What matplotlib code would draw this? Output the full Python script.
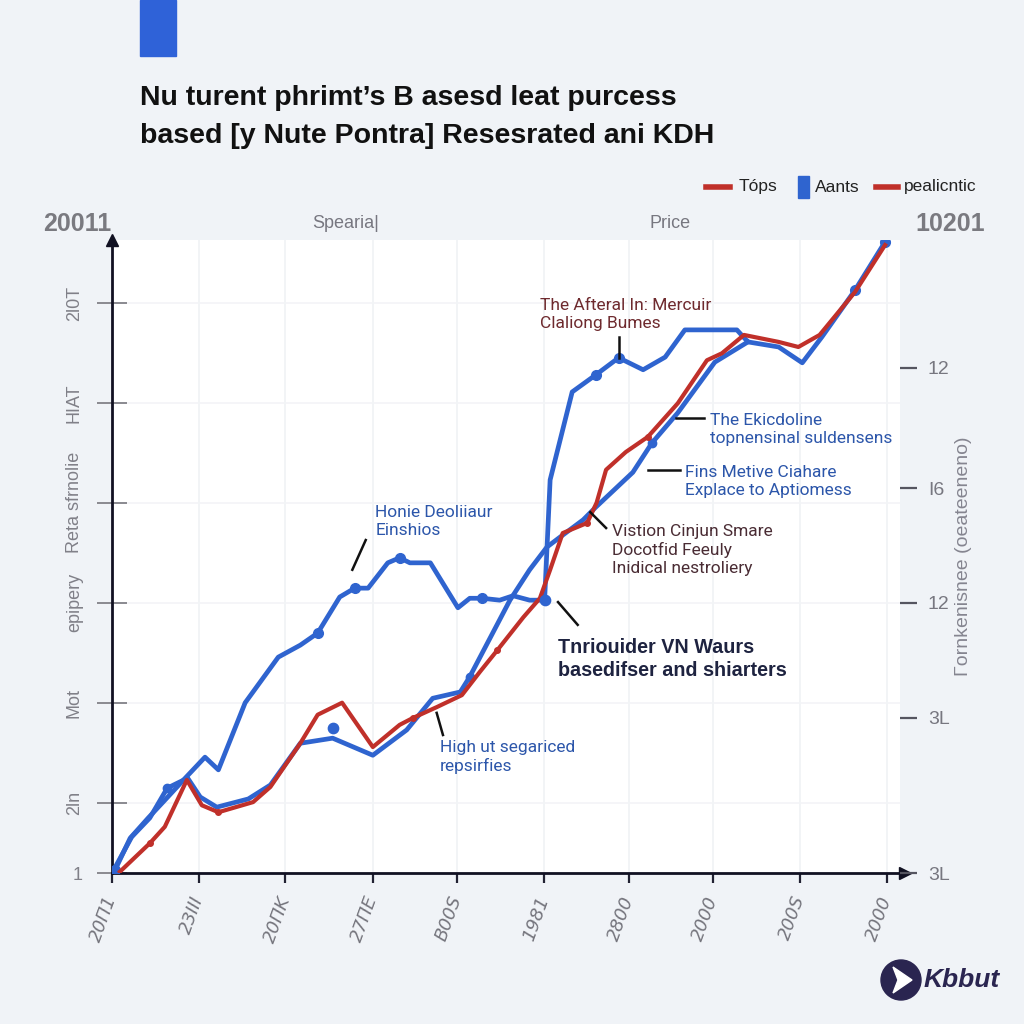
import matplotlib
matplotlib.use("Agg")
import matplotlib.pyplot as plt
from matplotlib.lines import Line2D
from matplotlib.patches import Rectangle, Circle, Polygon

plt.rcParams['font.family'] = ['Liberation Sans', 'DejaVu Sans']

# ---------------- data ----------------
upper_x = [0.4, 2.3, 4.6, 6.7, 9.3, 11.8, 13.5, 16.9, 21.1, 23.9, 26.1, 28.9, 30.8, 32.5,
           35.0, 36.5, 37.8, 40.4, 43.9, 45.4, 47.0, 49.2, 50.9, 53.0, 54.9, 55.6, 58.4,
           61.4, 64.3, 67.4, 70.2, 72.7, 79.3, 80.7, 84.6, 87.6, 90.1, 94.3, 98.1]
upper_y = [0.5, 5.5, 8.7, 11.5, 15.0, 18.3, 16.3, 26.9, 34.1, 36.0, 37.9, 43.6, 45.0, 45.0,
           49.0, 49.8, 49.0, 49.0, 41.9, 43.4, 43.4, 43.1, 43.8, 43.1, 43.1, 62.1, 76.0,
           78.7, 81.4, 79.5, 81.5, 85.8, 85.8, 83.9, 83.1, 80.6, 84.7, 92.1, 99.7]
upper_marks = [0, 10, 12, 15, 20, 27, 28, 37, 38]

lower_x = [0.1, 2.5, 4.8, 7.0, 9.6, 11.2, 13.3, 17.3, 20.1, 23.9, 28.0, 33.1, 37.4, 40.7,
           44.2, 45.4, 50.5, 53.0, 55.2, 56.9, 59.8, 61.4, 66.1, 68.5, 71.8, 76.5, 80.7]
lower_y = [0.2, 5.7, 8.7, 13.4, 15.0, 12.0, 10.4, 11.7, 13.9, 20.5, 21.3, 18.6, 22.6, 27.6,
           28.6, 31.0, 43.1, 47.9, 51.5, 53.1, 55.8, 57.8, 63.3, 67.9, 72.7, 80.7, 83.9]
lower_marks = [0, 3, 15, 23]

red_x = [1.0, 4.8, 6.7, 9.5, 11.4, 13.5, 17.9, 20.1, 23.9, 26.1, 29.2, 33.1, 36.5, 38.2,
         41.2, 44.4, 46.7, 48.9, 52.2, 54.3, 55.6, 57.2, 60.3, 61.5, 62.7, 65.2, 68.0,
         71.8, 75.5, 77.4, 80.2, 84.6, 87.1, 89.8, 94.3, 98.1]
red_y = [0.2, 4.7, 7.3, 14.7, 10.7, 9.6, 11.2, 13.6, 20.5, 25.0, 26.9, 19.9, 23.4, 24.5,
         26.2, 28.1, 31.8, 35.2, 40.4, 43.4, 47.9, 53.7, 55.3, 58.5, 63.7, 66.5, 68.9,
         74.2, 81.0, 82.1, 85.0, 83.9, 83.1, 85.0, 91.8, 99.2]
red_marks = [1, 5, 13, 17, 22, 26]

extra_dot_x = [28.0, 54.9]
extra_dot_y = [22.9, 43.1]

x_ticks = [0, 11.0, 22.0, 33.1, 43.8, 54.8, 65.6, 76.3, 87.3, 98.4]
x_labels = ["20Π1", "23ΙΙΙ", "20ΠK", "27ΠE", "B00S", "1981", "2800", "2000", "200S", "2000"]
left_ticks = [0, 11.1, 26.9, 42.7, 58.5, 74.2, 90.0]
left_labels = ["1", "2ln", "Mot", "epipery", "Reta sfrnolie", "HIAT", "2l0T"]
right_ticks = [0, 24.5, 42.7, 60.8, 79.8]
right_labels = ["3L", "3L", "12", "I6", "12"]

# annotations: (text, x, y, color, bold, line x0, y0, x1, y1)
notes = [
    ("The Afteral In: Mercuir\nClaliong Bumes", 54.3, 88.3, "#6e2a2e", False, 64.3, 84.7, 64.3, 81.4),
    ("The Ekicdoline\ntopnensinal suldensens", 75.9, 70.0, "#2c56aa", False, 71.6, 71.9, 75.1, 71.9),
    ("Fins Metive Ciahare\nExplace to Aptiomess", 72.7, 61.9, "#2c56aa", False, 68.0, 63.7, 72.1, 63.7),
    ("Vistion Cinjun Smare\nDocotfid Feeuly\nInidical nestroliery", 63.5, 51.0, "#4a2c34", False,
     60.7, 57.0, 62.7, 54.5),
    ("Honie Deoliiaur\nEinshios", 33.4, 55.5, "#2c56aa", False, 30.5, 47.9, 32.2, 52.6),
    ("Tnriouider VN Waurs\nbasedifser and shiarters", 56.6, 33.8, "#1e2340", True, 56.6, 42.8, 59.1, 39.2),
    ("High ut segariced\nrepsirfies", 41.6, 18.3, "#2c56aa", False, 41.2, 25.3, 42.0, 21.8),
]

BLUE = "#2f64cf"
RED = "#c0302a"
BG = "#f0f3f7"


def fx(px):
    return px / 1024


def fy(py):
    return 1 - py / 1024


fig = plt.figure(figsize=(10.24, 10.24), dpi=100, facecolor=BG)
ax = fig.add_axes([fx(112), fy(873), (900 - 112) / 1024, (873 - 240) / 1024])
ax.set_facecolor("white")
ax.set_xlim(0, 100)
ax.set_ylim(0, 100)

# faint grid
for gx in x_ticks[1:]:
    ax.axvline(gx, color="#f0f2f5", lw=1.2, zorder=0)
for gy in left_ticks[1:]:
    ax.axhline(gy, color="#f3f4f7", lw=1.2, zorder=0)

# ---------------- lines ----------------
ax.plot(upper_x, upper_y, color=BLUE, lw=3.4, solid_joinstyle="round", zorder=3,
        marker="o", markevery=upper_marks, ms=7)
ax.plot(lower_x, lower_y, color=BLUE, lw=3.4, solid_joinstyle="round", zorder=3,
        marker="o", markevery=lower_marks, ms=6)
ax.plot(red_x, red_y, color=RED, lw=3.0, solid_joinstyle="round", zorder=4,
        marker="o", markevery=red_marks, ms=4)
ax.scatter(extra_dot_x, extra_dot_y, color=BLUE, s=55, zorder=5)

# ---------------- annotations ----------------
for txt, tx, ty, col, bold, lx0, ly0, lx1, ly1 in notes:
    ax.text(tx, ty, txt, color=col, fontsize=14.2 if bold else 12.5,
            fontweight="bold" if bold else "normal", ha="left", va="center",
            linespacing=1.25, family=["Roboto", "DejaVu Sans"] if not bold else ["Liberation Sans", "DejaVu Sans"],
            zorder=6)
    ax.plot([lx0, lx1], [ly0, ly1], color="#111111", lw=1.8, zorder=6)

# ---------------- axes ----------------
for side in ["top", "right"]:
    ax.spines[side].set_visible(False)
ax.spines["left"].set_color("#111122")
ax.spines["left"].set_linewidth(2)
ax.spines["bottom"].set_color("#111122")
ax.spines["bottom"].set_linewidth(2)
ax.plot([0], [100], marker="^", color="#111122", ms=8, clip_on=False, zorder=7)
ax.plot([100.6], [0], marker=">", color="#111122", ms=8, clip_on=False, zorder=7)

ax.set_xticks(x_ticks)
ax.set_xticklabels(x_labels, rotation=70, ha="right", va="center", rotation_mode="anchor",
                   fontstyle="italic", color="#75757d", fontsize=13, family=["DejaVu Sans"])
ax.tick_params(axis="x", direction="out", length=7, width=1.6, color="#222233", pad=10)

ax.set_yticks(left_ticks)
ax.set_yticklabels(left_labels, color="#808088", fontsize=13)
ax.tick_params(axis="y", direction="inout", length=22, width=1.4, color="#8a8a90", pad=10)
for lab in ax.get_yticklabels()[1:]:
    lab.set_rotation(90)
    lab.set_va("center")
ax.get_yticklines()[0].set_visible(False)

ax2 = ax.twinx()
ax2.set_ylim(0, 100)
for side in ["top", "right", "left", "bottom"]:
    ax2.spines[side].set_visible(False)
ax2.set_yticks(right_ticks)
ax2.set_yticklabels(right_labels, color="#777780", fontsize=14)
ax2.tick_params(axis="y", direction="out", length=12, width=1.6, color="#555560", pad=8)
ax2.set_ylabel("Γornkenisnee (oeateeneno)", color="#858590", fontsize=14, labelpad=4)

# ---------------- header ----------------
fig.patches.append(Rectangle((fx(140), fy(56)), 36 / 1024, 56 / 1024, transform=fig.transFigure,
                             color="#2f62d8"))
fig.text(fx(140), fy(98), "Nu turent phrimt’s B asesd leat purcess", fontsize=20.5,
         fontweight="bold", color="#111111", va="center")
fig.text(fx(140), fy(136), "based [y Nute Pontra] Resesrated ani KDH", fontsize=20.5,
         fontweight="bold", color="#111111", va="center")

fig.text(fx(77), fy(224), "20011", fontsize=18, fontweight="bold", color="#7a7a80",
         ha="center", va="center")
fig.text(fx(950), fy(224), "10201", fontsize=18, fontweight="bold", color="#7a7a80",
         ha="center", va="center")
fig.text(fx(346), fy(224), "Spearia|", fontsize=13, color="#777780", ha="center", va="center")
fig.text(fx(670), fy(224), "Price", fontsize=13, color="#777780", ha="center", va="center")

# legend
fig.lines.append(Line2D([fx(706), fx(730)], [fy(187), fy(187)], transform=fig.transFigure,
                        color=RED, lw=4))
fig.text(fx(739), fy(187), "Tóps", fontsize=12.5, color="#222222", va="center")
fig.patches.append(Rectangle((fx(798), fy(198)), 11 / 1024, 22 / 1024, transform=fig.transFigure,
                             color=BLUE))
fig.text(fx(815), fy(187), "Aants", fontsize=12.5, color="#222222", va="center")
fig.lines.append(Line2D([fx(876), fx(898)], [fy(187), fy(187)], transform=fig.transFigure,
                        color=RED, lw=4))
fig.text(fx(904), fy(187), "pealicntic", fontsize=12.5, color="#222222", va="center")

# logo
fig.patches.append(Circle((fx(901), fy(980)), 20 / 1024, transform=fig.transFigure,
                          color="#2a2550"))
fig.patches.append(Polygon([(fx(893), fy(967)), (fx(912), fy(980)), (fx(893), fy(993)),
                            (fx(898), fy(980))], closed=True, transform=fig.transFigure,
                           color="white"))
fig.text(fx(924), fy(980), "Kbbut", fontsize=19, fontweight="bold", fontstyle="italic",
         color="#2a2550", va="center")

fig.savefig("out.png", dpi=100, facecolor=BG)
